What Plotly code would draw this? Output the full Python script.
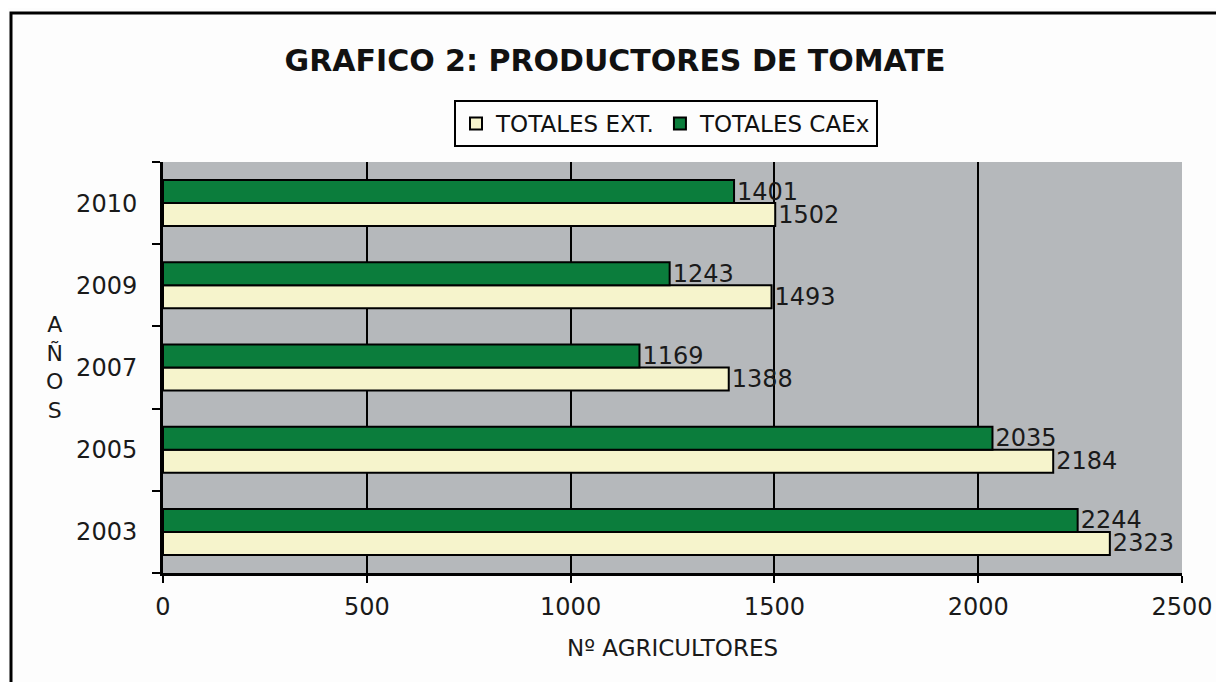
import plotly.graph_objects as go

years = ["2003", "2005", "2007", "2009", "2010"]
totales_ext = [2323, 2184, 1388, 1493, 1502]
totales_caex = [2244, 2035, 1169, 1243, 1401]
x_ticks = [0, 500, 1000, 1500, 2000, 2500]

FONT = "DejaVu Sans"
OFF = 8  # default page body margin
W, H = 1224 - OFF, 682 - OFF
L, R, T, B = 163 - OFF, 42, 162 - OFF, 109
PW, PH = W - L - R, H - T - B

def px_x(p):
    return (p - OFF - L) / PW

def px_y(p):
    return (H - B - (p - OFF)) / PH

fig = go.Figure()
fig.add_trace(go.Bar(
    y=years, x=totales_ext, orientation="h", name="TOTALES EXT.",
    marker=dict(color="#f6f4cc", line=dict(color="black", width=2)),
    text=totales_ext, textposition="outside", cliponaxis=False,
    constraintext="none",
    textfont=dict(family=FONT, size=24, color="#1a1a1a"),
))
fig.add_trace(go.Bar(
    y=years, x=totales_caex, orientation="h", name="TOTALES CAEx",
    marker=dict(color="#0b7d3c", line=dict(color="black", width=2)),
    text=totales_caex, textposition="outside", cliponaxis=False,
    constraintext="none",
    textfont=dict(family=FONT, size=24, color="#1a1a1a"),
))

fig.update_layout(
    width=W, height=H,
    margin=dict(l=L, r=R, t=T, b=B, autoexpand=False),
    paper_bgcolor="#fdfdfd",
    plot_bgcolor="#b5b8bb",
    barmode="group", bargap=0.44, bargroupgap=0,
    font=dict(family=FONT, color="#1a1a1a"),
    title=dict(text="<b>GRAFICO 2: PRODUCTORES DE TOMATE</b>",
               x=(615 - OFF) / W, xref="container", xanchor="center",
               y=1 - (60 - OFF) / H, yref="container", yanchor="middle",
               font=dict(family=FONT, size=30, color="#111")),
    legend=dict(orientation="h", x=px_x(666), xanchor="center",
                y=px_y(100), yanchor="top",
                bordercolor="black", borderwidth=2, bgcolor="#fdfdfd",
                font=dict(family=FONT, size=23, color="#111"),
                traceorder="normal", itemwidth=30),
    xaxis=dict(range=[0, 2500], tickvals=x_ticks,
               showgrid=True, gridcolor="black", gridwidth=2,
               zeroline=False, showline=True, linecolor="black", linewidth=3,
               ticks="outside", ticklen=7, tickwidth=2, tickcolor="black",
               ticklabelstandoff=3,
               tickfont=dict(family=FONT, size=24, color="#1a1a1a"),
               title=dict(text="Nº AGRICULTORES", standoff=21,
                          font=dict(family=FONT, size=23, color="#1a1a1a"))),
    yaxis=dict(type="category", categoryorder="array", categoryarray=years,
               showgrid=False, showline=True, linecolor="black", linewidth=3,
               ticks="outside", tickson="boundaries", ticklen=8, tickwidth=2,
               tickcolor="black", ticklabelstandoff=18,
               tickfont=dict(family=FONT, size=24, color="#1a1a1a")),
    showlegend=True,
)

fig.add_annotation(text="A<br>Ñ<br>O<br>S", xref="paper", yref="paper",
                   x=px_x(54), y=px_y(367), xanchor="center", yanchor="middle",
                   showarrow=False,
                   font=dict(family=FONT, size=22, color="#1a1a1a"))

# outer frame (left and top edges visible)
fig.add_shape(type="rect", xref="paper", yref="paper",
              x0=px_x(11), x1=px_x(1224 + 20), y0=px_y(682 + 20), y1=px_y(13),
              line=dict(color="black", width=3), fillcolor="rgba(0,0,0,0)",
              layer="below")

fig.write_html("out.html")
